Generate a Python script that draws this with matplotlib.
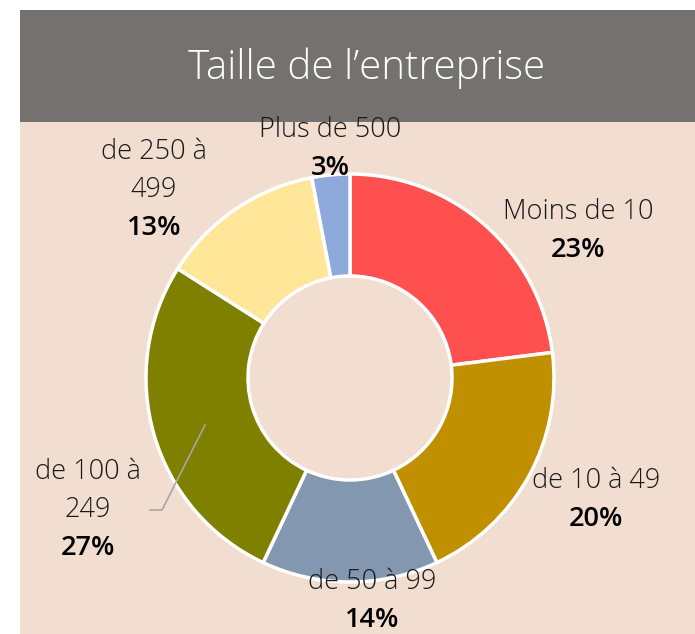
import matplotlib
matplotlib.use("Agg")
import matplotlib.pyplot as plt
from matplotlib.patches import Rectangle

# data
categories = ["Moins de 10", "de 10 à 49", "de 50 à 99", "de 100 à\n249", "de 250 à\n499", "Plus de 500"]
values = [23, 20, 14, 27, 13, 3]
colors = ["#FF5050", "#C09000", "#8497B0", "#808000", "#FFE699", "#8EA9DB"]

# label positions in pixels (x, y from top)
label_pos = [(578, 212), (596, 481), (372, 582), (88, 472), (154, 152), (330, 130)]

W, H = 695, 634
plt.rcParams['font.family'] = ['Open Sans', 'DejaVu Sans']

fig = plt.figure(figsize=(W / 100, H / 100), dpi=100)
fig.patch.set_facecolor("white")
ax = fig.add_axes([0, 0, 1, 1])

# donut
ax.pie(values, colors=colors, startangle=90, counterclock=False,
       center=(350, H - 378), radius=204, frame=True,
       wedgeprops=dict(width=102, edgecolor="white", linewidth=2.5, zorder=3))
ax.set_xlim(0, W)
ax.set_ylim(0, H)
ax.set_aspect("equal")
ax.axis("off")

# background + title bar
ax.add_patch(Rectangle((20, 0), W - 20, H - 10, facecolor="#F2DDD1", edgecolor="none", zorder=0))
ax.add_patch(Rectangle((20, H - 122), W - 20, 112, facecolor="#757171", edgecolor="none", zorder=1))
ax.text(367, H - 68, "Taille de l\u2019entreprise", color="white", fontsize=29,
        fontweight="light", ha="center", va="center", zorder=2)

# labels
for (x, y), cat, v in zip(label_pos, categories, values):
    lines = cat.split("\n")
    for i, ln in enumerate(lines):
        ax.text(x, H - y - i * 38, ln, fontsize=19.5, color="#1a1a1a", fontweight="light",
                ha="center", va="center", zorder=5)
    ax.text(x, H - y - len(lines) * 38, "%d%%" % v, fontsize=19.5, color="black",
            fontweight="semibold", ha="center", va="center", zorder=5)

# leader line for de 100 a 249
ax.plot([150, 162, 205], [H - 510, H - 510, H - 425], color="#A6A6A6", linewidth=1.2, zorder=4)

fig.savefig("out.png", dpi=100, facecolor=fig.get_facecolor())
